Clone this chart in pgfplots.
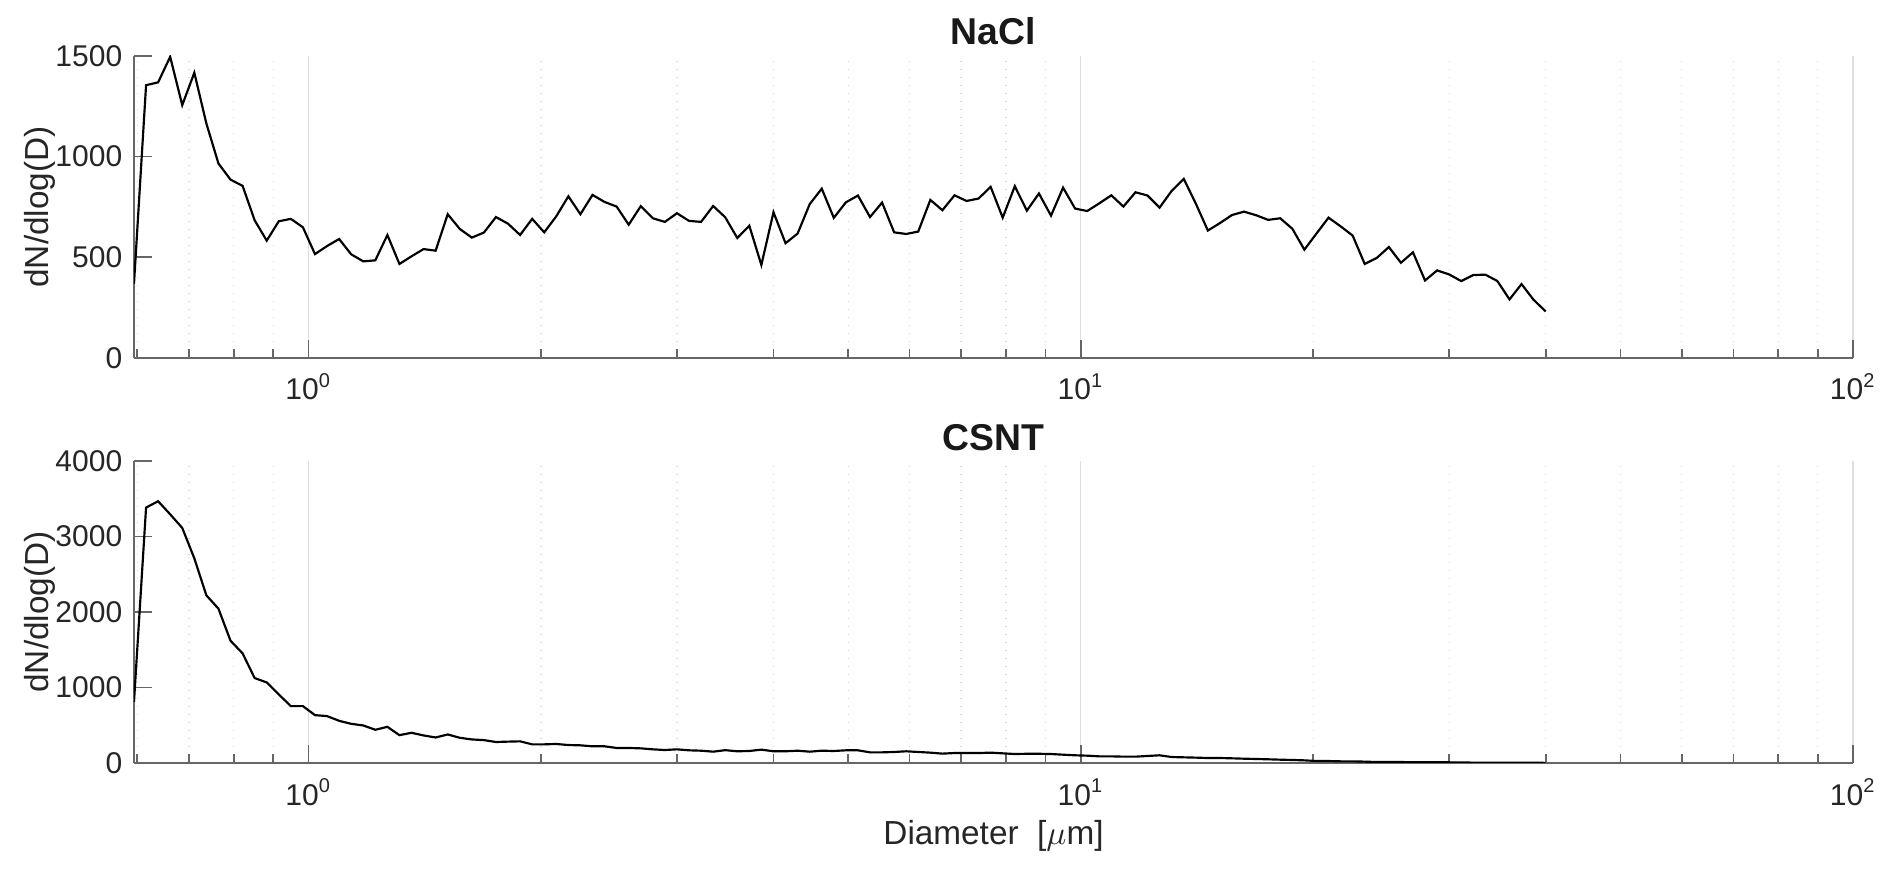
\documentclass[border=0pt]{standalone}
\usepackage{fontspec}
\setmainfont{Liberation Sans}
\usepackage{pgfplots}
\pgfplotsset{compat=1.18}
\usepackage{pgfplotstable}

\pgfplotstableread{
x nacl csnt
0.5942 369 811
0.6160 1355 3383
0.6385 1369 3467
0.6619 1496 3294
0.6862 1256 3113
0.7113 1417 2711
0.7374 1165 2221
0.7644 966 2044
0.7924 886 1620
0.8214 855 1452
0.8515 684 1125
0.8827 583 1067
0.9150 679 908
0.9486 691 753
0.9833 649 753
1.0193 516 634
1.0566 556 621
1.0954 591 559
1.1355 515 519
1.1771 480 497
1.2202 485 440
1.2649 611 479
1.3112 467 369
1.3593 505 400
1.4091 541 365
1.4607 533 338
1.5142 714 378
1.5697 641 334
1.6272 598 312
1.6868 623 303
1.7486 700 278
1.8126 667 283
1.8790 611 287
1.9479 691 247
2.0192 624 247
2.0932 704 252
2.1699 803 238
2.2494 714 234
2.3318 810 221
2.4172 775 221
2.5057 752 199
2.5975 662 199
2.6927 754 194
2.7913 694 181
2.8936 676 172
2.9996 719 181
3.1094 681 168
3.2234 676 163
3.3414 755 150
3.4638 699 170
3.5907 596 155
3.7223 657 159
3.8586 462 177
4.0000 724 155
4.1464 570 155
4.2983 618 163
4.4558 764 150
4.6190 841 163
4.7881 696 159
4.9634 773 168
5.1454 807 168
5.3337 700 141
5.5296 772 141
5.7321 624 146
5.9418 616 155
6.1593 628 146
6.3855 785 137
6.6198 734 124
6.8624 808 132
7.1134 780 132
7.3737 792 132
7.6440 850 137
7.9240 697 128
8.2139 853 119
8.5151 732 122
8.8268 817 122
9.1504 707 119
9.4856 846 110
9.8328 742 102
10.193 730 97
10.566 768 88
10.954 808 88
11.355 752 84
11.771 823 84
12.202 807 93
12.649 747 102
13.112 830 79
13.593 890 75
14.091 767 71
14.607 633 66
15.142 670 66
15.697 710 62
16.272 727 57
16.868 709 53
17.486 686 49
18.126 694 44
18.790 642 40
19.479 538 35
20.192 618 26
20.932 697 26
21.699 654 22
22.494 608 22
23.318 467 18
24.172 497 13
25.057 551 13
25.975 473 13
26.927 525 9
27.913 385 9
28.936 435 9
29.996 415 9
31.094 382 7
32.234 412 5
33.414 414 4
34.638 382 4
35.907 291 3
37.223 367 3
38.586 289 3
40.000 231 2
}\datatable

\begin{document}
\begin{tikzpicture}
\path[use as bounding box] (0pt,0pt) rectangle (567.6pt,-261.6pt);
\begin{axis}[at={(40.2pt,-107.4pt)}, anchor=south west,
    scale only axis, width=515.7pt, height=90.6pt,
    xmode=log, xmin=0.5942, xmax=100,
    xtick={1,10,100},
    xticklabels={10\textsuperscript{0},10\textsuperscript{1},10\textsuperscript{2}},
    minor xtick={0.6,0.7,0.8,0.9,2,3,4,5,6,7,8,9,20,30,40,50,60,70,80,90},
    xmajorgrids, xminorgrids,
    major grid style={draw=black!13, line width=0.4pt},
    minor grid style={draw=black!16, dotted, line width=0.4pt},
    separate axis lines,
    axis x line*=bottom, axis y line*=left,
    axis line style={draw=black!60, line width=0.5pt},
    tick style={draw=black!60, line width=0.5pt},
    tick align=inside,
    major tick length=5.4pt, minor tick length=2.7pt,
    ymin=0, ymax=1500, ytick={0,500,1000,1500},
    scaled y ticks=false,
    yticklabel style={/pgf/number format/assume math mode=true, /pgf/number format/1000 sep={}},
    tick label style={font=\fontsize{9}{11}\selectfont, text=black!85},
    xticklabel style={anchor=base, yshift=-12.6pt},
    label style={font=\fontsize{10}{12}\selectfont, text=black!85},
    ylabel={dN/dlog(D)},
    ylabel style={at={(axis description cs:-0.04964,0.5)}, anchor=base},
    title={NaCl},
    every axis title/.style={at={(axis description cs:0.5,1.0364)}, anchor=base, font=\bfseries\fontsize{11.2}{13}\selectfont, text=black!90},
  ]
\addplot[black, line width=0.65pt, mark=none] table[x=x, y=nacl] {\datatable};
\end{axis}
\begin{axis}[at={(40.2pt,-228.9pt)}, anchor=south west,
    scale only axis, width=515.7pt, height=90.6pt,
    xmode=log, xmin=0.5942, xmax=100,
    xtick={1,10,100},
    xticklabels={10\textsuperscript{0},10\textsuperscript{1},10\textsuperscript{2}},
    minor xtick={0.6,0.7,0.8,0.9,2,3,4,5,6,7,8,9,20,30,40,50,60,70,80,90},
    xmajorgrids, xminorgrids,
    major grid style={draw=black!13, line width=0.4pt},
    minor grid style={draw=black!16, dotted, line width=0.4pt},
    separate axis lines,
    axis x line*=bottom, axis y line*=left,
    axis line style={draw=black!60, line width=0.5pt},
    tick style={draw=black!60, line width=0.5pt},
    tick align=inside,
    major tick length=5.4pt, minor tick length=2.7pt,
    ymin=0, ymax=4000, ytick={0,1000,2000,3000,4000},
    scaled y ticks=false,
    yticklabel style={/pgf/number format/assume math mode=true, /pgf/number format/1000 sep={}},
    tick label style={font=\fontsize{9}{11}\selectfont, text=black!85},
    xticklabel style={anchor=base, yshift=-12.6pt},
    label style={font=\fontsize{10}{12}\selectfont, text=black!85},
    ylabel={dN/dlog(D)},
    ylabel style={at={(axis description cs:-0.04964,0.5)}, anchor=base},
    xlabel={Diameter\ \ [$\mu$m]},
    xlabel style={at={(axis description cs:0.5,-0.2715)}, anchor=base},
    title={CSNT},
    every axis title/.style={at={(axis description cs:0.5,1.0364)}, anchor=base, font=\bfseries\fontsize{11.2}{13}\selectfont, text=black!90},
  ]
\addplot[black, line width=0.65pt, mark=none] table[x=x, y=csnt] {\datatable};
\end{axis}
\end{tikzpicture}
\end{document}
